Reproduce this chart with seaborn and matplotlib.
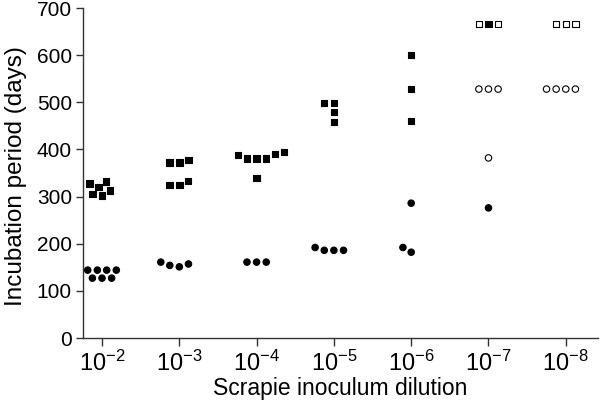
import matplotlib
matplotlib.use("Agg")
import matplotlib.pyplot as plt
from matplotlib.transforms import Affine2D
import pandas as pd
import seaborn as sns

# ---- data ----
dilutions = ["-2", "-3", "-4", "-5", "-6", "-7", "-8"]
tick_labels = [r"$\mathregular{10^{%s}}$" % d for d in dilutions]

square_filled = [
    [313, 328, 332, 302, 305, 320],
    [372, 372, 378, 333, 325, 325],
    [395, 388, 381, 381, 381, 390, 339],
    [499, 499, 479, 458],
    [600, 528, 460],
    [666],
    [],
]
square_open = [[], [], [], [], [], [666, 666], [666, 666, 666]]

circle_filled = [
    [144, 144, 144, 144, 127, 127, 127],
    [157, 151, 154, 161],
    [161, 161, 161],
    [186, 186, 186, 192],
    [286, 182, 192],
    [276],
    [],
]
circle_open = [[], [], [], [], [], [528, 528, 528, 382], [528, 528, 528, 528]]

y_ticks = [0, 100, 200, 300, 400, 500, 600, 700]


def long_frame(filled, opened):
    rows = []
    for d, vals in zip(dilutions, filled):
        rows += [(d, v, "filled") for v in vals]
    for d, vals in zip(dilutions, opened):
        rows += [(d, v, "open") for v in vals]
    return pd.DataFrame(rows, columns=["dilution", "days", "status"])


squares = long_frame(square_filled, square_open)
circles = long_frame(circle_filled, circle_open)

sns.set_style("ticks")
plt.rcParams["font.family"] = ["Liberation Sans", "DejaVu Sans"]
plt.rcParams["mathtext.fontset"] = "custom"
plt.rcParams["mathtext.rm"] = "Liberation Sans"
plt.rcParams["text.color"] = "black"
plt.rcParams["axes.labelcolor"] = "black"
plt.rcParams["xtick.color"] = "black"
plt.rcParams["ytick.color"] = "black"

fig = plt.figure(figsize=(6.0, 4.08), dpi=100)
ax = fig.add_axes([83 / 600, (408 - 338) / 408, (598 - 83) / 600, (338 - 8) / 408])

pal = {"filled": "black", "open": "white"}
common = dict(x="dilution", y="days", hue="status", hue_order=["filled", "open"],
              palette=pal, order=dilutions, edgecolor="black", linewidth=0.8,
              size=5.8, legend=False, ax=ax)
sns.swarmplot(data=squares, marker="s", **common)
sns.swarmplot(data=circles, marker="o", **common)

# draw the glyphs a bit smaller than the swarm spacing so there are gaps
shrink = Affine2D().scale(0.8)
for coll in ax.collections:
    coll.set_paths([p.transformed(shrink) for p in coll.get_paths()])

ax.set_xlim(-0.246, 6.417)
ax.set_ylim(0, 700)
ax.set_yticks(y_ticks)
ax.set_xticks(range(len(dilutions)))
ax.set_xticklabels(tick_labels, fontsize=17)
ax.tick_params(axis="y", labelsize=15, length=5, width=1, color="#333333", pad=3)
ax.tick_params(axis="x", length=6, width=1, color="#333333", pad=3)
ax.set_xlabel("Scrapie inoculum dilution", fontsize=16.5, labelpad=1)
ax.set_ylabel("Incubation period (days)", fontsize=17.5)
ax.yaxis.set_label_coords(-0.108, 0.49)
for s in ("top", "right"):
    ax.spines[s].set_visible(False)
for s in ("left", "bottom"):
    ax.spines[s].set_color("#333333")
    ax.spines[s].set_linewidth(1)

fig.savefig("out.png", dpi=100)
